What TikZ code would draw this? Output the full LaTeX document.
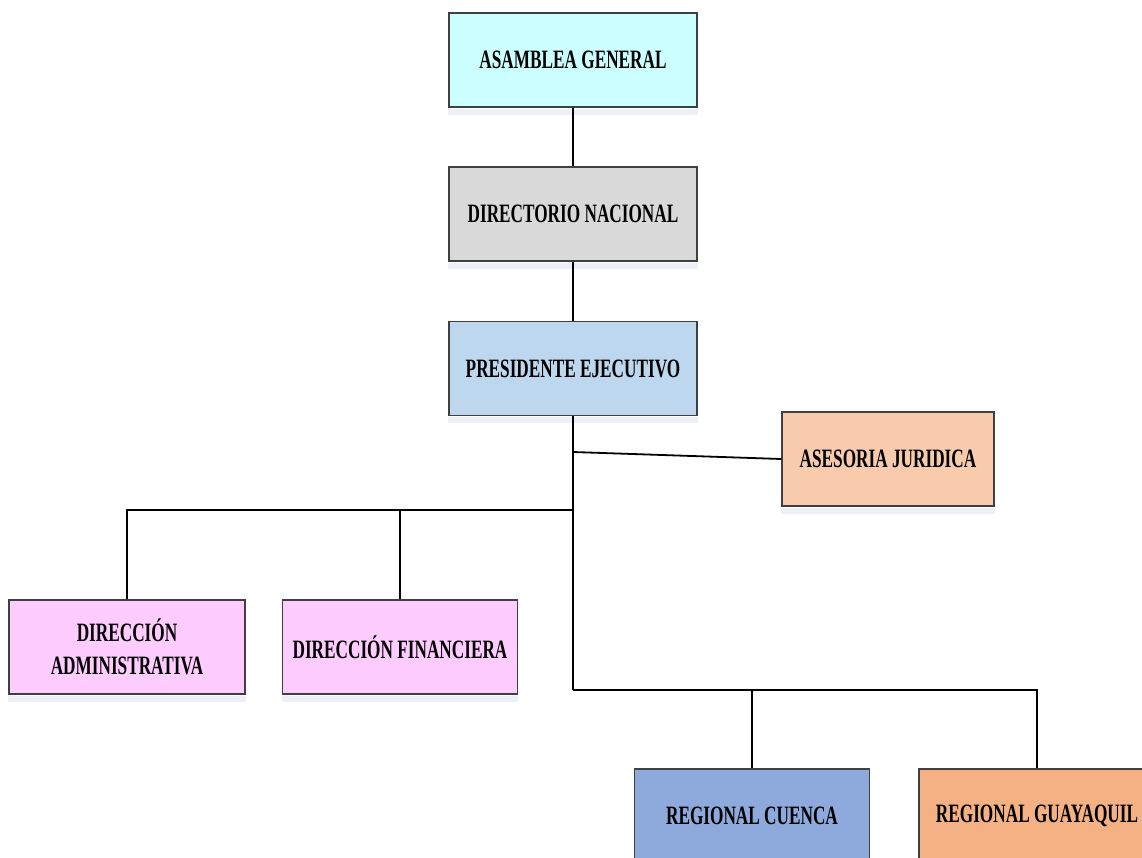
\documentclass[tikz,border=0pt]{standalone}
\usepackage{fontspec}
\newfontfamily\orgfont[FakeStretch=0.65]{Liberation Serif}
\definecolor{cyanbox}{HTML}{CCFFFF}
\definecolor{graybox}{HTML}{D9D9D9}
\definecolor{bluebox}{HTML}{BDD7EE}
\definecolor{peachbox}{HTML}{F8CBAD}
\definecolor{pinkbox}{HTML}{FFCCFF}
\definecolor{regblue}{HTML}{8EA9DB}
\definecolor{regorange}{HTML}{F4B183}
\definecolor{shadowc}{HTML}{EDF1F7}
\begin{document}
\begin{tikzpicture}[x=1pt,y=-1pt,
  unit/.style={draw=black!75, line width=1.2pt, minimum width=248pt,
    minimum height=94pt, inner sep=0pt, align=center,
    font=\orgfont\bfseries\fontsize{26.5}{33}\selectfont},
  link/.style={line width=1.8pt, black},
  shade/.style={fill=shadowc}]
\useasboundingbox (0,0) rectangle (1142,857);

% units
\node[unit, fill=cyanbox] (asa) at (573,60) {ASAMBLEA GENERAL};
\node[unit, fill=graybox] (dir) at (573,214) {DIRECTORIO NACIONAL};
\node[unit, fill=bluebox] (pre) at (573,368.5) {PRESIDENTE EJECUTIVO};
\node[unit, fill=peachbox, minimum width=212pt] (ase) at (888,459) {ASESORIA JURIDICA};
\node[unit, fill=pinkbox, minimum width=236pt] (dad) at (127,647) {DIRECCIÓN\\ADMINISTRATIVA};
\node[unit, fill=pinkbox, minimum width=235pt] (dfi) at (400,647) {DIRECCIÓN FINANCIERA};
\node[unit, fill=regblue, minimum width=235pt] (cue) at (752,816) {REGIONAL CUENCA};
\node[unit, fill=regorange, minimum width=236pt] (gua) at (1037,816) {REGIONAL GUAYAQUIL};

% soft band under each unit
\foreach \n in {asa,dir,pre,ase,dad,dfi}
  \fill[shade] ([yshift=-1pt]\n.south west) rectangle ([yshift=-7pt]\n.south east);

% junction points
\coordinate (jase) at (573,452);
\coordinate (jdir) at (573,510);
\coordinate (jreg) at (573,690);

% connectors
\draw[link] (asa.south) -- (dir.north);
\draw[link] (dir.south) -- (pre.north);
\draw[link] (pre.south) -- (jreg);
\draw[link] (jase) -- (ase.west);
\draw[link] (jdir) -| (dad.north);
\draw[link] (dfi.north |- jdir) -- (dfi.north);
\draw[link] (jreg) -| (gua.north);
\draw[link] (cue.north |- jreg) -- (cue.north);
\end{tikzpicture}
\end{document}
